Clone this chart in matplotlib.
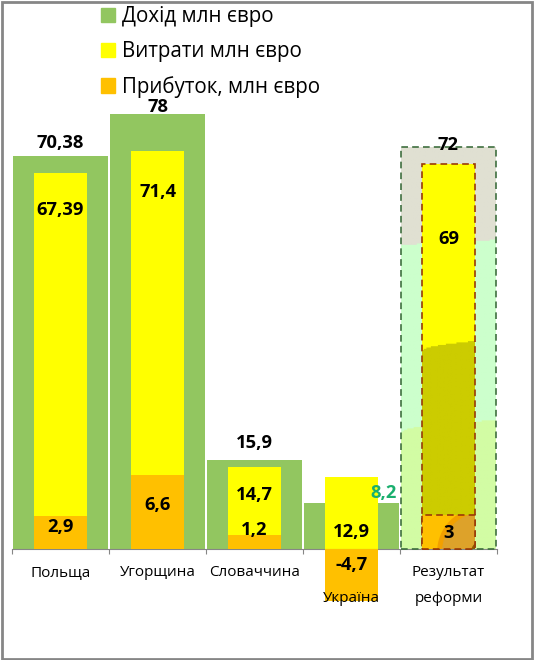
import numpy as np
import matplotlib
matplotlib.use("Agg")
import matplotlib.pyplot as plt
from matplotlib.patches import Patch, Rectangle, Ellipse

plt.rcParams['font.family'] = ['Open Sans', 'DejaVu Sans']

categories = ['Польща', 'Угорщина', 'Словаччина', 'Україна', 'Результат\nреформи']
income = [70.38, 78, 15.9, 8.2, 72]
costs = [67.39, 71.4, 14.7, 12.9, 69]
profit = [2.9, 6.6, 1.2, -4.7, 3]
legend_labels = ['Дохід млн євро', 'Витрати млн євро', 'Прибуток, млн євро']

green, yellow, orange = '#92C660', '#FFFF00', '#FFC000'
gray = '#868686'

# label placement (pixels), hand-tuned like the excel original
inc_dy = [13, 7.5, 17, 10, 2]
inc_dx = [0, 0, 0, 0.33, 0]
inc_col = ['black', 'black', 'black', '#1AAF6E', 'black']
cost_dy = [-37, -41, -28, -55, -75]
prof_y = [21, 43, 18.5, -16.5, 15.5]

W, H = 534, 660
fig = plt.figure(figsize=(W / 100, H / 100), dpi=100)
ax = fig.add_axes([12 / W, 40 / H, 485 / W, 520 / H])
ppu = 5.57
ymin, ymax = -71.5 / ppu, 448.5 / ppu
x = np.arange(len(categories))

gb = ax.bar(x, income, width=0.97, color=green, zorder=1)
yb = ax.bar(x, costs, width=0.54, color=yellow, zorder=2)

# last category: decorated "result" bars
n = len(categories) - 1
gx0, gx1 = n - 0.485, n + 0.485
hh, ww = 300, 60
v = np.linspace(0, 1, hh)[:, None]
u = np.linspace(0, 1, ww)[None, :]
img = np.zeros((hh, ww, 3))
img[:] = matplotlib.colors.to_rgb('#CCFFCC')
img[(v > 0.757 + 0.013 * u).nonzero()] = matplotlib.colors.to_rgb('#E0E0D2')
img[(v < 0.29 + 0.03 * np.sqrt(u)).nonzero()] = matplotlib.colors.to_rgb('#D2FCA4')
ax.imshow(img, extent=[gx0, gx1, 0, income[n]], origin='lower', aspect='auto', zorder=1.5)
gb[n].set_facecolor('none')
gb[n].set_edgecolor('#3F6F3F')
gb[n].set_linewidth(1.2)
gb[n].set_linestyle((0, (4, 2.5)))
gb[n].set_zorder(3)

img2 = np.zeros((hh, ww, 3))
img2[:] = matplotlib.colors.to_rgb(yellow)
img2[(v < 0.515 + 0.025 * np.sqrt(u)).nonzero()] = matplotlib.colors.to_rgb('#CCCC00')
ax.imshow(img2, extent=[n - 0.27, n + 0.27, 0, costs[n]], origin='lower', aspect='auto', zorder=2.1)
yb[n].set_facecolor('none')
yb[n].set_edgecolor('#9A3A08')
yb[n].set_linewidth(1.2)
yb[n].set_linestyle((0, (4, 2.5)))
yb[n].set_zorder(3)

ax.set_xlim(-0.5, len(categories) - 0.5)
ax.set_ylim(ymin, ymax)
for s in ['top', 'left', 'right']:
    ax.spines[s].set_visible(False)
ax.spines['bottom'].set_position(('data', 0))
ax.spines['bottom'].set_color(gray)
ax.spines['bottom'].set_linewidth(0.8)
ax.set_yticks([])
ax.set_xticks(np.arange(-0.5, len(categories), 1))
ax.tick_params(axis='x', direction='out', length=3.6, color=gray, width=0.8, labelbottom=False)

ax2 = ax.twinx()
ax2.set_ylim(ymin / 2, ymax / 2)
ax2.set_xlim(ax.get_xlim())
ax2.set_axis_off()
pb = ax2.bar(x, profit, width=0.54, color=orange, zorder=1)

# circle decoration in the result profit bar
clip = pb[n]
for (w_, h_, c) in [(0.9, 7.8, '#F2A000'), (0.8, 6.9, '#DDA22A'), (0.2, 1.8, '#8B5A00')]:
    e = Ellipse((n + 0.34, -0.3), w_, h_, color=c, zorder=1.5)
    ax2.add_patch(e)
    e.set_clip_path(clip)
ped = Rectangle((n - 0.27, 0), 0.54, profit[n], fill=False, edgecolor='#9A3A08',
                linewidth=1.2, linestyle=(0, (4, 2.5)), zorder=2)
ax2.add_patch(ped)

bold = dict(fontsize=13.2, fontweight='bold', ha='center', va='center')
for i in x:
    ax2.annotate(f'{income[i]:g}'.replace('.', ','), xy=(i + inc_dx[i], income[i]), xycoords=ax.transData,
                 xytext=(0, inc_dy[i] * 0.72), textcoords='offset points', color=inc_col[i], zorder=5, **bold)
    ax2.annotate(f'{costs[i]:g}'.replace('.', ','), xy=(i, costs[i]), xycoords=ax.transData,
                 xytext=(0, cost_dy[i] * 0.72), textcoords='offset points', zorder=5, **bold)
    ax2.annotate(f'{profit[i]:g}'.replace('.', ','), xy=(i, 0), xycoords=ax.transData,
                 xytext=(0, prof_y[i] * 0.72), textcoords='offset points', zorder=5, **bold)
    lines = categories[i].split('\n')
    row0 = 1 if profit[i] < 0 else 0
    for k, t in enumerate(lines):
        ax2.annotate(t, xy=(i, 0), xycoords=ax.transData,
                     xytext=(0, -(24.5 + 25.5 * (k + row0)) * 0.72), textcoords='offset points',
                     ha='center', va='center', fontsize=11, zorder=5)

handles = [Patch(color=c) for c in [green, yellow, orange]]
fig.legend(handles, legend_labels, loc='upper left', bbox_to_anchor=(101 / W, 1 - 6 / H),
           frameon=False, fontsize=14.8, handlelength=0.7, handleheight=0.7,
           handletextpad=0.3, labelspacing=0.68, borderpad=0, borderaxespad=0)

fig.add_artist(Rectangle((1.5 / W, 1.5 / H), 530 / W, 656.5 / H, transform=fig.transFigure,
                         fill=False, edgecolor=gray, linewidth=2))

fig.savefig('out.png', dpi=100)
